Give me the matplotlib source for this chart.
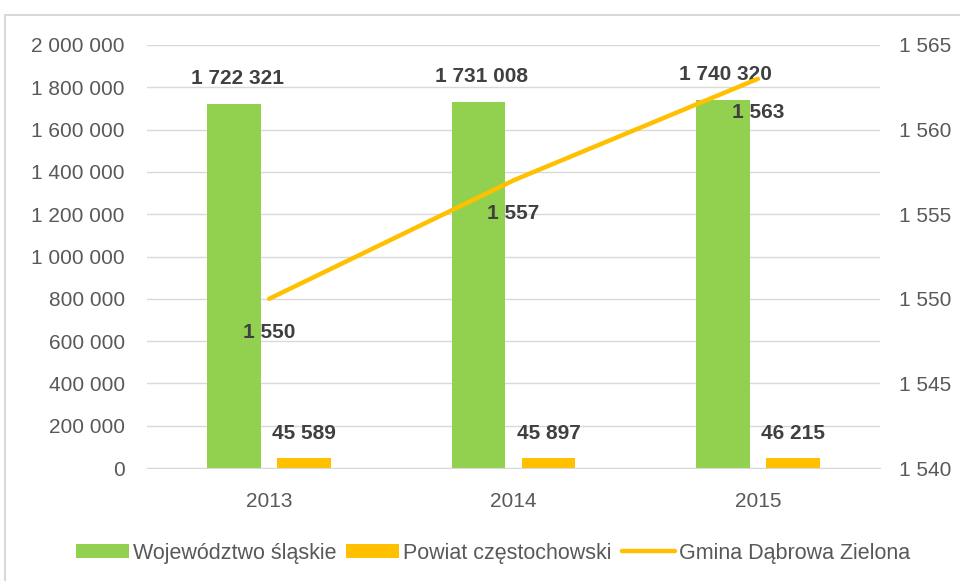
import matplotlib
matplotlib.use("Agg")
import matplotlib.pyplot as plt
import numpy as np
from matplotlib.patches import Rectangle
from matplotlib.ticker import FuncFormatter, MultipleLocator

years = ["2013", "2014", "2015"]
wojewodztwo = [1722321, 1731008, 1740320]
powiat = [45589, 45897, 46215]
gmina = [1550, 1557, 1563]
series_names = ["Województwo śląskie", "Powiat częstochowski", "Gmina Dąbrowa Zielona"]

GREEN = "#92D050"
ORANGE = "#FFC000"
TICK_C = "#595959"
LAB_C = "#404040"
FONT = ["Liberation Sans", "DejaVu Sans"]
plt.rcParams['font.family'] = FONT

def sp(v):
    return f"{int(round(v)):,}".replace(",", " ")

fig = plt.figure(figsize=(9.6, 5.81), dpi=100)
fig.patches.append(Rectangle((5/960, -0.1), 1.2, 1 - 15/581 + 0.1, transform=fig.transFigure,
                             fill=False, edgecolor="#D9D9D9", linewidth=1.5))
ax = fig.add_axes([147/960, 1 - 468/581, (880 - 147)/960, (468 - 45)/581])
ax2 = ax.twinx()

x = np.arange(len(years))
w = 0.22
off = 0.143
b1 = ax.bar(x - off, wojewodztwo, w, color=GREEN, label=series_names[0], zorder=2)
b2 = ax.bar(x + off, powiat, w, color=ORANGE, label=series_names[1], zorder=2)
ax.set_xlim(-0.5, 2.5)
ax.set_ylim(0, 2000000)
ax.yaxis.set_major_locator(MultipleLocator(200000))
ax.yaxis.set_major_formatter(FuncFormatter(lambda v, p: sp(v)))
ax.grid(axis="y", color="#D9D9D9", linewidth=1, zorder=0)
ax.set_axisbelow(True)
for s in ["top", "right", "left", "bottom"]:
    ax.spines[s].set_visible(False)
    ax2.spines[s].set_visible(False)
ax.spines["bottom"].set_visible(True)
ax.spines["bottom"].set_color("#D9D9D9")
ax.set_xticks(x)
ax.set_xticklabels(years)
ax.tick_params(axis="x", length=0, pad=17, labelsize=15, labelcolor=TICK_C)
ax.tick_params(axis="y", length=0, pad=16, labelsize=15, labelcolor=TICK_C)

for xi, v in zip(x - off, wojewodztwo):
    ax.annotate(sp(v), (xi, v), xytext=(2, 18), textcoords="offset points",
                ha="center", va="center", fontsize=15, fontweight="bold", color=LAB_C)
for xi, v in zip(x + off, powiat):
    ax.annotate(sp(v), (xi, v), xytext=(0, 18), textcoords="offset points",
                ha="center", va="center", fontsize=15, fontweight="bold", color=LAB_C)

ln, = ax2.plot(x, gmina, color=ORANGE, linewidth=3.2, solid_capstyle="round",
               label=series_names[2], zorder=3)
ax2.set_ylim(1540, 1565)
ax2.yaxis.set_major_locator(MultipleLocator(5))
ax2.yaxis.set_major_formatter(FuncFormatter(lambda v, p: sp(v)))
ax2.tick_params(axis="y", length=0, pad=14, labelsize=15, labelcolor=TICK_C)
for xi, v in zip(x, gmina):
    ax2.annotate(sp(v), (xi, v), xytext=(0, -24), textcoords="offset points",
                 ha="center", va="center", fontsize=15, fontweight="bold", color=LAB_C)

fig.legend(handles=[b1, b2, ln], labels=series_names, loc="center",
           bbox_to_anchor=(493/960, 1 - 553/581), ncol=3, frameon=False,
           fontsize=15.5, handlelength=2.46, handleheight=0.65, columnspacing=0.47,
           handletextpad=0.19, labelcolor=TICK_C, borderpad=0, borderaxespad=0)

fig.savefig("out.png", dpi=100)
